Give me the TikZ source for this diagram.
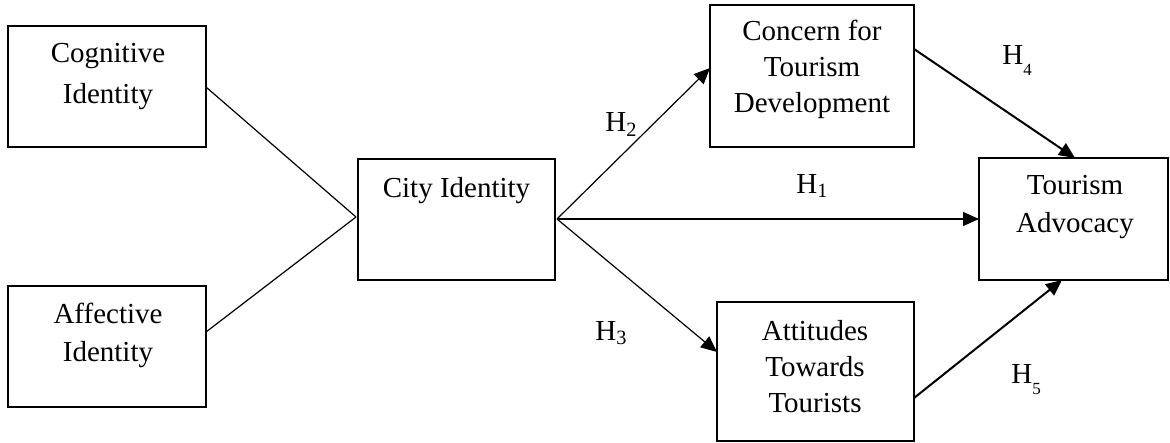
\documentclass[tikz,border=0pt]{standalone}
\usepackage{fontspec}
\setmainfont{Liberation Serif}
\usetikzlibrary{arrows.meta}
\newcommand{\lowsub}[1]{\raisebox{-5.5pt}{\fontsize{8.5}{8.5}\selectfont #1}}
\begin{document}
\begin{tikzpicture}[x=0.5pt,y=-0.5pt,
 box/.style={draw,line width=1.1pt,inner sep=0,outer sep=0},
 txt/.style={align=center,font=\fontsize{14.5}{18}\selectfont,inner sep=0,anchor=base},
 lab/.style={font=\fontsize{14.5}{18}\selectfont,inner sep=0,anchor=base west},
 link/.style={line width=0.6pt},
 arr/.style={line width=0.6pt,-{Triangle[length=8pt,width=7pt]}},
 arrb/.style={line width=1pt,-{Triangle[length=8pt,width=7pt]}}]
\useasboundingbox (0,0) rectangle (1170,443);
% boxes
\node[box,minimum width=99pt,minimum height=60.5pt] (cog) at (107,86.5) {};
\node[box,minimum width=99pt,minimum height=60.5pt] (aff) at (107,346.5) {};
\node[box,minimum width=98.5pt,minimum height=60.5pt] (city) at (456.5,219.5) {};
\node[box,minimum width=102pt,minimum height=71pt] (conc) at (812,76) {};
\node[box,minimum width=98.5pt,minimum height=69.5pt] (att) at (815.5,371.5) {};
\node[box,minimum width=94.5pt,minimum height=61pt] (adv) at (1073.5,219) {};
% texts (base anchor = baseline of last line)
\node[txt] (cogT) at (108,104) {Cognitive\\[2.5pt]Identity};
\node[txt] (affT) at (108,361) {Affective\\[1pt]Identity};
\node[txt] (cityT) at (456.5,198) {City Identity};
\node[txt] (concT) at (812,113) {Concern for\\Tourism\\Development};
\node[txt] (advT) at (1075,232) {Tourism\\[0.5pt]Advocacy};
\node[txt] (attT) at (815,412) {Attitudes\\Towards\\Tourists};
% connection points
\coordinate (m) at (356,217);
\coordinate (cs) at (557,219);
% links
\draw[link] (cog.east |- {(0,87)}) -- (m);
\draw[link] (aff.east |- {(0,332)}) -- (m);
\draw[arr] (cs) -- (conc.west |- {(0,68)});
\draw[arr] (cs) -- (adv.west);
\draw[arr] (cs) -- (att.west |- {(0,352)});
\draw[arrb] (conc.east |- {(0,49)}) -- (adv.north -| {(1075,0)});
\draw[arrb] (att.east |- {(0,398)}) -- (adv.south -| {(1062,0)});
% labels
\node[lab] (h2) at (605,132) {H\textsubscript{2}};
\node[lab] (h3) at (595,340) {H\textsubscript{3}};
\node[lab] (h1) at (796,193) {H\textsubscript{1}};
\node[lab] (h4) at (1002,65) {H\lowsub{4}};
\node[lab] (h5) at (1011,383) {H\lowsub{5}};
\end{tikzpicture}
\end{document}
